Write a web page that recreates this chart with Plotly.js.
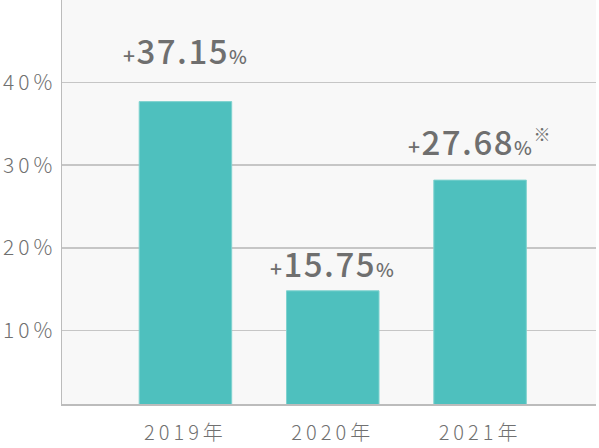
<!DOCTYPE html>
<html>
<head>
<meta charset="utf-8">
<script src="https://cdn.plot.ly/plotly-3.0.1.min.js"></script>
<style>
	body { margin: 0; background: #fff; }
	#chart { width: 599px; height: 448px; }
	.xtick text, .ytick text { letter-spacing: 4px; }
	.annotation-text { letter-spacing: 1.5px; }
</style>
</head>
<body>
<div id="chart"></div>
<script>
// 年ごとの伸び率
const years = ['2019年', '2020年', '2021年'];
const barValues = [37.7, 14.8, 28.2];
const labelValues = ['37.15', '15.75', '27.68'];
const labelNotes = ['', '', '※'];
const tickValues = [10, 20, 30, 40];
const tickLabels = ['10%', '20%', '30%', '40%'];

const labelShift = [26, 2, 13];

function labelText(v, note) {
	let t = '<span style="font-size:21px">+</span>' + v + '<span style="font-size:19px">%</span>';
	if (note) t += '<sup><span style="font-size:17px">' + note + '</span></sup>';
	return t;
}

const trace = {
	type: 'bar',
	x: years,
	y: barValues,
	width: 0.628,
	marker: {
		color: '#4ec0be',
		line: { color: '#7fd2cf', width: 1 }
	},
	hoverinfo: 'none'
};

const annotations = years.map((yr, i) => ({
	x: yr,
	y: barValues[i],
	yanchor: 'bottom',
	yshift: labelShift[i],
	showarrow: false,
	text: labelText(labelValues[i], labelNotes[i]),
	font: { family: 'Noto Sans CJK JP', size: 33, color: '#6f6f6f', weight: 500 }
}));

const layout = {
	width: 599,
	height: 448,
	margin: { l: 62, r: 3, t: 0, b: 44 },
	paper_bgcolor: '#ffffff',
	plot_bgcolor: '#f8f8f8',
	showlegend: false,
	font: { family: 'Noto Sans CJK JP', color: '#707070' },
	xaxis: {
		type: 'category',
		range: [-0.838, 2.787],
		showgrid: false,
		zeroline: false,
		showline: true,
		linecolor: '#bcbcbc',
		linewidth: 1.5,
		ticks: '',
		ticklabelstandoff: 10,
		tickfont: { size: 20, color: '#707070', weight: 300 },
		fixedrange: true
	},
	yaxis: {
		range: [1.1, 50],
		tickvals: tickValues,
		ticktext: tickLabels,
		showgrid: true,
		gridcolor: '#c6c6c6',
		gridwidth: 1.5,
		zeroline: false,
		showline: true,
		linecolor: '#bcbcbc',
		linewidth: 1.5,
		ticks: '',
		ticklabelstandoff: 0,
		tickfont: { size: 21, color: '#707070', weight: 300 },
		fixedrange: true
	},
	annotations: annotations
};

Plotly.newPlot('chart', [trace], layout, { displayModeBar: false, staticPlot: true });
</script>
</body>
</html>
